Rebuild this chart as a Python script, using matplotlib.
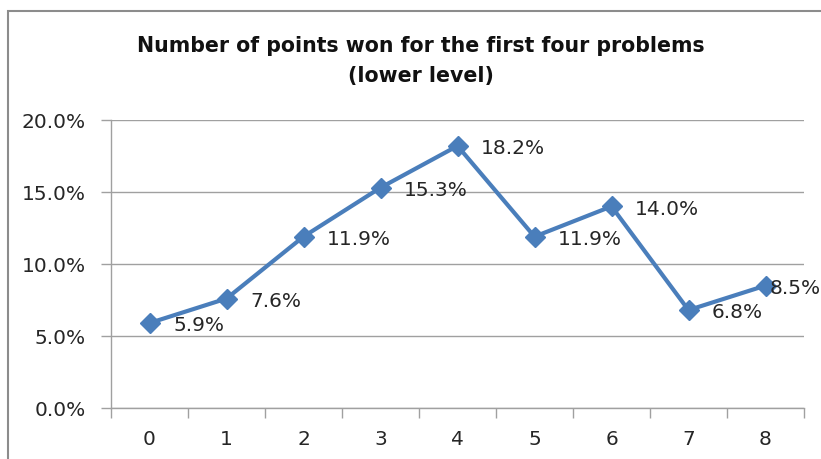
import matplotlib.pyplot as plt
from matplotlib.patches import Rectangle
from matplotlib.ticker import PercentFormatter, FixedLocator

categories = [0, 1, 2, 3, 4, 5, 6, 7, 8]
points_pct = [5.9, 7.6, 11.9, 15.3, 18.2, 11.9, 14.0, 6.8, 8.5]
y_ticks = [0, 5, 10, 15, 20]

W, H = 821, 459
fig = plt.figure(figsize=(W / 100, H / 100), dpi=100)
ax = fig.add_axes([111 / W, 1 - 408 / H, (804 - 111) / W, (408 - 120) / H])

grey = "#a0a0a0"
blue = "#4a7ebb"
txt = "#262626"

# chart outline (cropped at right/bottom like the screenshot)
fig.patches.append(Rectangle((8 / W, -0.1), 1.2, 1 - 11 / H + 0.1, transform=fig.transFigure,
                             fill=False, edgecolor="#8c8c8c", linewidth=1.5))

ax.plot(categories, points_pct, color=blue, linewidth=3, marker="D",
        markersize=10, markerfacecolor=blue, markeredgecolor=blue, zorder=3)

for i, (x, v) in enumerate(zip(categories, points_pct)):
    dx = 17 if i < len(categories) - 1 else 3
    ax.annotate(f"{v:.1f}%", (x, v), xytext=(dx, -2), textcoords="offset points",
                ha="left", va="center", fontsize=14.5, color=txt, annotation_clip=False)

ax.set_xlim(-0.5, 8.5)
ax.set_ylim(0, 20)
ax.set_yticks(y_ticks)
ax.yaxis.set_major_formatter(PercentFormatter(decimals=1))
ax.yaxis.grid(True, color=grey, linewidth=1)
ax.set_axisbelow(True)

ax.set_xticks(categories)
ax.set_xticklabels([str(c) for c in categories])
ax.xaxis.set_minor_locator(FixedLocator([c - 0.5 for c in categories] + [8.5]))
ax.tick_params(axis="x", which="major", length=0, pad=15.5, labelsize=14.5, labelcolor=txt)
ax.tick_params(axis="x", which="minor", length=7, color=grey, width=1)
ax.tick_params(axis="y", length=7, color=grey, width=1, pad=11, labelsize=14.5, labelcolor=txt)

for side in ["top", "right"]:
    ax.spines[side].set_visible(False)
for side in ["left", "bottom"]:
    ax.spines[side].set_color(grey)
    ax.spines[side].set_linewidth(1)

title_font = dict(ha="center", va="center", fontsize=14.8, fontweight="bold", color="#111111")
fig.text(421 / W, 1 - 46 / H, "Number of points won for the first four problems", **title_font)
fig.text(421 / W, 1 - 76 / H, "(lower level)", **title_font)

fig.savefig("out.png", dpi=100)
